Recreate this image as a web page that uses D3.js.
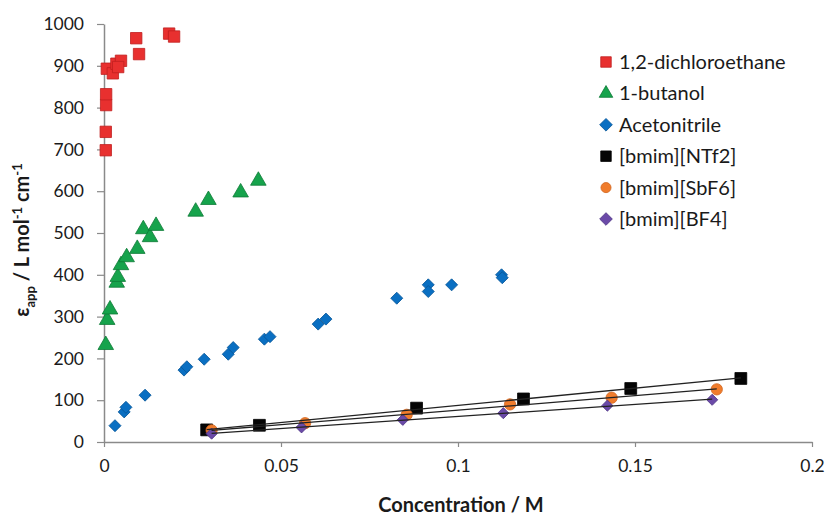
<!DOCTYPE html>
<html>
<head>
<meta charset="utf-8">
<script src="https://cdn.jsdelivr.net/npm/d3@7"></script>
<style>
  body { margin: 0; background: #fff; }
  text { font-family: Lato, "Open Sans", sans-serif; fill: #1a1a1a; }
</style>
</head>
<body>
<script>
const width = 826;
const height = 518;

// data: [concentration M, eps_app]
const dce = [[0.0005, 698], [0.0005, 742], [0.0006, 806], [0.0006, 832], [0.0008, 893],
  [0.0025, 882], [0.0035, 905], [0.0048, 912], [0.004, 897], [0.0091, 966],
  [0.0099, 928], [0.0184, 977], [0.0198, 970]];
const butanol = [[0.0005, 232], [0.0009, 292], [0.0017, 317], [0.0036, 381], [0.0039, 395],
  [0.0048, 423], [0.0064, 442], [0.0094, 462], [0.0111, 509], [0.0130, 490],
  [0.0147, 517], [0.0259, 551], [0.0295, 579], [0.0386, 597], [0.0436, 625]];
const acetonitrile = [[0.0031, 39], [0.0057, 72], [0.0062, 83], [0.0116, 112], [0.0226, 172],
  [0.0234, 180], [0.0283, 198], [0.0351, 210], [0.0365, 226], [0.0453, 246],
  [0.0469, 252], [0.0605, 282], [0.0627, 294], [0.0827, 344], [0.0916, 376],
  [0.0916, 360], [0.0982, 376], [0.1123, 400], [0.1125, 393]];
const ntf2 = [[0.029, 29], [0.0439, 40], [0.0883, 81], [0.1185, 103], [0.1488, 128], [0.1799, 152]];
const sbf6 = [[0.0304, 28], [0.0568, 45], [0.0855, 65], [0.1147, 90], [0.1434, 106], [0.1731, 126]];
const bf4 = [[0.0304, 20], [0.0558, 35], [0.0844, 53], [0.1128, 69], [0.1422, 87], [0.1718, 101]];

const seriesNames = ['1,2-dichloroethane', '1-butanol', 'Acetonitrile',
  '[bmim][NTf2]', '[bmim][SbF6]', '[bmim][BF4]'];
const xTicks = [0, 0.05, 0.1, 0.15, 0.2];
const yTicks = [0, 100, 200, 300, 400, 500, 600, 700, 800, 900, 1000];

const series = [
  { name: seriesNames[0], data: dce, shape: d3.symbolSquare, size: 130, rot: 0, fill: '#e8302f', stroke: '#c01f1f' },
  { name: seriesNames[1], data: butanol, shape: d3.symbolTriangle, size: 105, rot: 0, fill: '#16a34c', stroke: '#0e7a36' },
  { name: seriesNames[2], data: acetonitrile, shape: d3.symbolSquare, size: 72, rot: 45, fill: '#0a6fc2', stroke: '#08579a' },
  { name: seriesNames[3], data: ntf2, shape: d3.symbolSquare, size: 140, rot: 0, fill: '#050505', stroke: '#000', fit: true },
  { name: seriesNames[4], data: sbf6, shape: d3.symbolCircle, size: 100, rot: 0, fill: '#f07c2c', stroke: '#d0661f', fit: true },
  { name: seriesNames[5], data: bf4, shape: d3.symbolSquare, size: 62, rot: 45, fill: '#6b4aa8', stroke: '#4f3585', fit: true }
];

const svg = d3.select('body').append('svg')
  .attr('width', width)
  .attr('height', height);

const x = d3.scaleLinear().domain([0, 0.2]).range([104, 812]);
const y = d3.scaleLinear().domain([0, 1000]).range([442, 24]);

// axes
const xAxis = svg.append('g')
  .attr('transform', `translate(0, ${y(0)})`)
  .call(d3.axisBottom(x).tickValues(xTicks).tickSize(5).tickSizeOuter(0).tickPadding(13)
    .tickFormat(d => d === 0 ? '0' : String(d)));
const yAxis = svg.append('g')
  .attr('transform', `translate(${x(0)}, 0)`)
  .call(d3.axisLeft(y).tickValues(yTicks).tickSize(7).tickSizeOuter(0).tickPadding(13)
    .tickFormat(d3.format('d')));

[xAxis, yAxis].forEach(a => {
  a.select('.domain').attr('stroke', '#8a8a8a').attr('stroke-width', 1.5);
  a.selectAll('.tick line').attr('stroke', '#8a8a8a').attr('stroke-width', 1.2);
  a.selectAll('.tick text').style('font-size', '17.5px').attr('fill', '#1a1a1a');
});

// axis titles
svg.append('text')
  .attr('x', 461).attr('y', 512)
  .attr('text-anchor', 'middle')
  .style('font-size', '20px').style('font-weight', 'bold')
  .text('Concentration / M');

const yt = svg.append('text')
  .attr('transform', 'translate(29, 240) rotate(-90)')
  .attr('text-anchor', 'middle')
  .style('font-size', '20px').style('font-weight', 'bold');
yt.append('tspan').text('ε');
yt.append('tspan').attr('dy', 6).style('font-size', '13px').text('app');
yt.append('tspan').attr('dy', -6).text(' / L mol');
yt.append('tspan').attr('dy', -7).style('font-size', '13px').text('-1');
yt.append('tspan').attr('dy', 7).text(' cm');
yt.append('tspan').attr('dy', -7).style('font-size', '13px').text('-1');

// markers
series.forEach(s => {
  svg.append('g')
    .selectAll('path')
    .data(s.data)
    .enter().append('path')
      .attr('d', d3.symbol().type(s.shape).size(s.size))
      .attr('transform', d => `translate(${x(d[0])}, ${y(d[1])}) rotate(${s.rot})`)
      .attr('fill', s.fill)
      .attr('stroke', s.stroke)
      .attr('stroke-width', 0.8);
});

// linear trendlines for the ionic liquids
series.filter(s => s.fit).forEach(s => {
  const mx = d3.mean(s.data, d => d[0]);
  const my = d3.mean(s.data, d => d[1]);
  const slope = d3.sum(s.data, d => (d[0] - mx) * (d[1] - my)) /
    d3.sum(s.data, d => (d[0] - mx) * (d[0] - mx));
  const icpt = my - slope * mx;
  const ext = d3.extent(s.data, d => d[0]);
  svg.append('line')
    .attr('x1', x(ext[0])).attr('y1', y(icpt + slope * ext[0]))
    .attr('x2', x(ext[1])).attr('y2', y(icpt + slope * ext[1]))
    .attr('stroke', '#222')
    .attr('stroke-width', 1.3);
});

// legend
const legend = svg.append('g');
series.forEach((s, i) => {
  const ly = 62 + i * 31.4;
  legend.append('path')
    .attr('d', d3.symbol().type(s.shape).size(s.shape === d3.symbolSquare && !s.rot ? 110 : 80))
    .attr('transform', `translate(606, ${ly}) rotate(${s.rot})`)
    .attr('fill', s.fill)
    .attr('stroke', s.stroke)
    .attr('stroke-width', 0.8);
  legend.append('text')
    .attr('x', 619).attr('y', ly)
    .attr('dy', '0.35em')
    .style('font-size', '20px')
    .text(s.name);
});
</script>
</body>
</html>
